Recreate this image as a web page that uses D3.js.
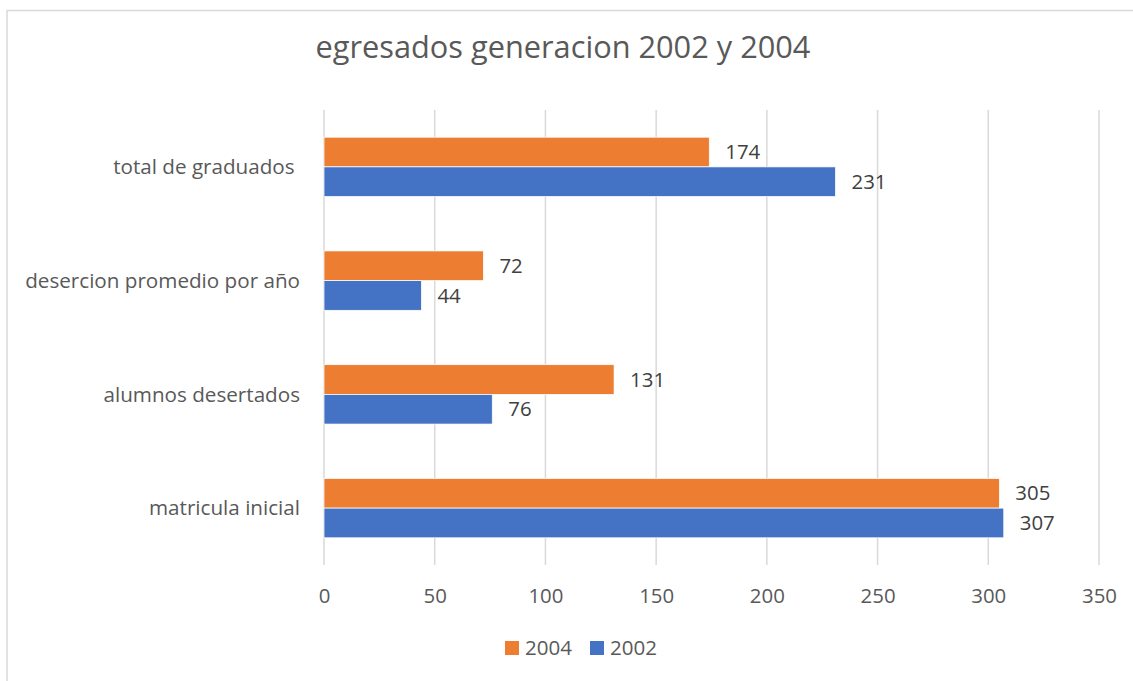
<!DOCTYPE html>
<html>
<head>
<meta charset="utf-8">
<script src="https://cdn.jsdelivr.net/npm/d3@7"></script>
<style>
  html, body { margin: 0; padding: 0; background: #fff; }
  svg { display: block; font-family: "Open Sans", sans-serif; }
  .cat { white-space: pre; }
</style>
</head>
<body>
<svg id="chart" width="1133" height="681"></svg>
<script>
const title = "egresados generacion 2002 y 2004";
const categories = ["total de graduados ", "desercion promedio por año", "alumnos desertados", "matricula inicial"];
const seriesNames = ["2004", "2002"];
const values2004 = [174, 72, 131, 305];
const values2002 = [231, 44, 76, 307];
const tickValues = [0, 50, 100, 150, 200, 250, 300, 350];
const colors = { "2004": "#ED7D31", "2002": "#4472C4" };

const series = [
  { name: "2004", values: values2004 },
  { name: "2002", values: values2002 }
];

const W = 1133, H = 681;
const plot = { left: 324, right: 1099, top: 110, bottom: 565 };
const svg = d3.select("#chart");

function fit(sel, target) {
  const base = 20;
  sel.attr("font-size", base);
  const w = sel.node().getComputedTextLength();
  sel.attr("font-size", base * target / w);
  return base * target / w;
}

svg.append("line").attr("x1", 7).attr("x2", W).attr("y1", 10.5).attr("y2", 10.5)
  .attr("stroke", "#d9d9d9").attr("stroke-width", 1.5);
svg.append("line").attr("x1", 7).attr("x2", 7).attr("y1", 10).attr("y2", H)
  .attr("stroke", "#d9d9d9").attr("stroke-width", 1.5);

const x = d3.scaleLinear().domain([0, 350]).range([plot.left, plot.right]);
const y = d3.scaleBand().domain(categories).range([plot.top, plot.bottom])
  .paddingInner(0.478).paddingOuter(0.239);
const ySub = d3.scaleBand().domain(seriesNames).range([0, y.bandwidth()]);

svg.append("g").selectAll("line").data(tickValues).join("line")
  .attr("x1", d => x(d)).attr("x2", d => x(d))
  .attr("y1", plot.top).attr("y2", plot.bottom)
  .attr("stroke", "#d9d9d9").attr("stroke-width", 1.5);

const t = svg.append("text").attr("x", 563).attr("y", 58).attr("text-anchor", "middle")
  .attr("fill", "#595959").text(title);
fit(t, 495);

const axis = d3.axisBottom(x).tickValues(tickValues).tickSize(0).tickPadding(0);
const axG = svg.append("g").call(axis);
axG.select(".domain").remove();
axG.selectAll("text").attr("y", 603).attr("dy", null).attr("fill", "#595959")
  .attr("font-family", "Open Sans, sans-serif");
const probe = svg.append("text").text("100");
const tickSize = fit(probe, 35);
probe.remove();
axG.selectAll("text").attr("font-size", tickSize);

const catProbe = svg.append("text").text(categories[1]);
const catSize = fit(catProbe, 275);
catProbe.remove();
svg.append("g").selectAll("text").data(categories).join("text")
  .attr("class", "cat")
  .attr("x", 300)
  .attr("y", d => y(d) + y.bandwidth() / 2)
  .attr("dy", "0.35em")
  .attr("text-anchor", "end")
  .attr("fill", "#595959")
  .attr("font-size", catSize)
  .text(d => d);

const lblProbe = svg.append("text").text("174");
const lblSize = fit(lblProbe, 35);
lblProbe.remove();

series.forEach(s => {
  const g = svg.append("g");
  g.selectAll("rect").data(categories).join("rect")
    .attr("x", x(0))
    .attr("y", (c) => y(c) + ySub(s.name))
    .attr("width", (c, i) => x(s.values[i]) - x(0))
    .attr("height", ySub.bandwidth())
    .attr("fill", colors[s.name])
    .attr("stroke", "#fff").attr("stroke-width", 0.75);
  g.selectAll("text").data(categories).join("text")
    .attr("x", (c, i) => x(s.values[i]) + 16)
    .attr("y", (c) => y(c) + ySub(s.name) + ySub.bandwidth() / 2)
    .attr("dy", "0.35em")
    .attr("fill", "#404040")
    .attr("font-size", lblSize)
    .text((c, i) => s.values[i]);
});

const legProbe = svg.append("text").text("2004");
const legSize = fit(legProbe, 47);
legProbe.remove();
const legX = [505, 590];
const leg = svg.append("g").selectAll("g").data(seriesNames).join("g")
  .attr("transform", (d, i) => `translate(${legX[i]},0)`);
leg.append("rect").attr("x", 0).attr("y", 641).attr("width", 14).attr("height", 14)
  .attr("fill", d => colors[d]);
leg.append("text").attr("x", 20).attr("y", 655).attr("fill", "#595959")
  .attr("font-size", legSize).text(d => d);
</script>
</body>
</html>
